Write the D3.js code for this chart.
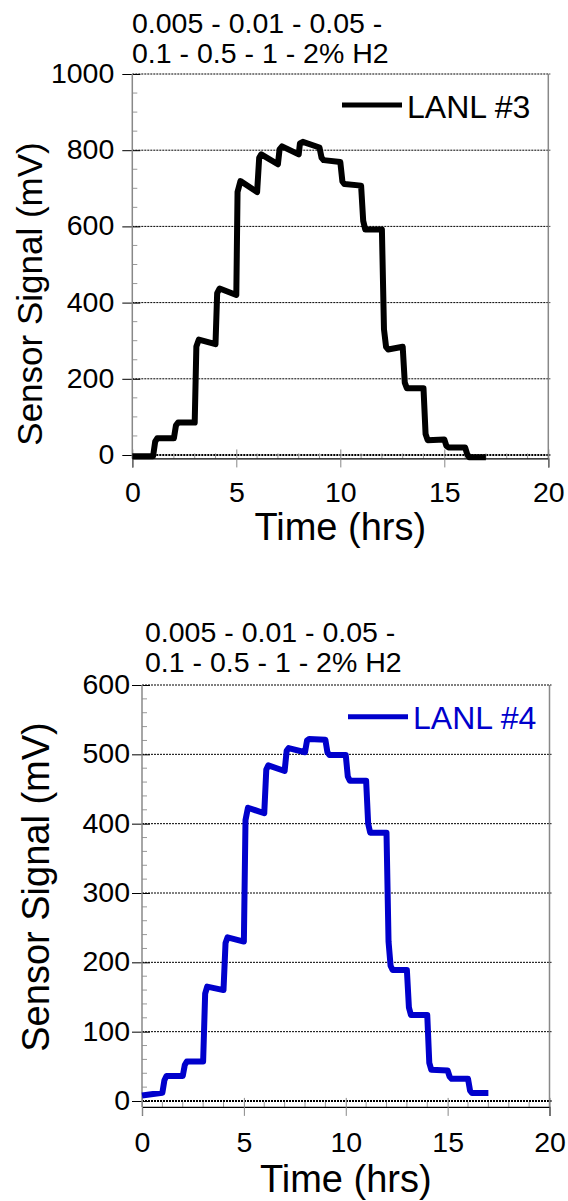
<!DOCTYPE html>
<html><head><meta charset="utf-8">
<script src="https://cdn.jsdelivr.net/npm/d3@7"></script>
<style>
body{margin:0;background:#fff}
svg{display:block}
text{font-family:"Liberation Sans",Arial,Helvetica,sans-serif;fill:#000}
</style>
</head><body>
<svg id="chart" width="568" height="1201"></svg>
<script>
// ---------- data ----------
const titleLines = ["0.005 - 0.01 - 0.05 -", "0.1 - 0.5 - 1 - 2% H2"];
const xTicks = [0, 5, 10, 15, 20];
const yTicksTop = [0, 200, 400, 600, 800, 1000];
const yTicksBottom = [0, 100, 200, 300, 400, 500, 600];
const seriesNames = ["LANL #3", "LANL #4"];
const xLabel = "Time (hrs)";
const yLabel = "Sensor Signal (mV)";

const time3 = [0, 1.0, 1.1, 1.2, 2.0, 2.1, 2.2, 3.0, 3.08, 3.2, 4.0, 4.08, 4.2, 5.0, 5.06, 5.2, 6.0, 6.1, 6.2, 7.0, 7.08, 7.2, 8.0, 8.06, 8.2, 9.0, 9.1, 9.2, 10.0, 10.1, 10.2, 11.0, 11.1, 11.2, 12.0, 12.1, 12.2, 12.3, 13.0, 13.1, 13.2, 14.0, 14.1, 14.2, 15.0, 15.1, 15.2, 16.0, 16.1, 16.2, 17.0];
const signal3 = [-3, -3, 35, 44, 44, 78, 85, 85, 285, 303, 291, 425, 437, 420, 690, 719, 690, 780, 789, 763, 802, 810, 789, 818, 822, 807, 780, 774, 769, 718, 711, 707, 615, 592, 592, 330, 284, 277, 284, 190, 175, 175, 55, 39, 41, 24, 20, 20, 2, -6, -6];

const time4 = [0, 1.0, 1.1, 1.2, 2.0, 2.1, 2.2, 3.0, 3.1, 3.2, 4.0, 4.1, 4.2, 5.0, 5.08, 5.2, 6.0, 6.1, 6.2, 7.0, 7.1, 7.2, 8.0, 8.1, 8.2, 9.0, 9.1, 9.2, 10.0, 10.1, 10.2, 11.0, 11.1, 11.2, 12.0, 12.1, 12.2, 12.3, 13.0, 13.1, 13.2, 14.0, 14.1, 14.2, 15.0, 15.1, 15.2, 16.0, 16.1, 16.2, 17.0];
const signal4 = [8, 12, 30, 36, 36, 52, 57, 57, 155, 165, 160, 228, 236, 230, 405, 423, 415, 478, 484, 476, 505, 509, 503, 520, 522, 521, 503, 499, 499, 468, 462, 462, 400, 387, 387, 230, 195, 189, 189, 135, 124, 124, 55, 45, 44, 35, 32, 32, 15, 11.5, 11.5];

// ---------- drawing ----------
const svg = d3.select("#chart");
const FONT = 28.5;

function drawPanel(cfg) {
  const g = svg.append("g");
  const x = d3.scaleLinear().domain([0, 20]).range([cfg.left, cfg.right]);
  const y = d3.scaleLinear().domain([0, cfg.yMax]).range([cfg.y0, cfg.yTop]);
  const axisY = y(cfg.yAxisMin);

  // gridlines
  g.append("g").selectAll("line").data(cfg.yTicks).join("line")
    .attr("x1", cfg.left).attr("x2", cfg.right + 2)
    .attr("y1", d => y(d)).attr("y2", d => y(d))
    .attr("stroke", "#000")
    .attr("stroke-width", d => (d === 0 ? 2 : 1))
    .attr("stroke-dasharray", "2,1");

  // minor ticks y
  const minorY = d3.range(0, cfg.yMax + 0.001, cfg.yMinor).filter(v => !cfg.yTicks.includes(v));
  g.append("g").selectAll("line").data(minorY).join("line")
    .attr("x1", cfg.left).attr("x2", cfg.left + 5)
    .attr("y1", d => y(d)).attr("y2", d => y(d))
    .attr("stroke", "#999").attr("stroke-width", 1);

  // minor ticks x
  const minorX = d3.range(1, 20).filter(v => v % 5 !== 0);
  g.append("g").selectAll("line").data(minorX).join("line")
    .attr("x1", d => x(d)).attr("x2", d => x(d))
    .attr("y1", axisY - 5).attr("y2", axisY)
    .attr("stroke", "#999").attr("stroke-width", 1);

  // left axis (y) with d3 axis
  const yAxis = d3.axisLeft(y).tickValues(cfg.yTicks).tickSize(10).tickPadding(cfg.yPad).tickFormat(d3.format("d"));
  const ga = g.append("g").attr("transform", `translate(${cfg.left},0)`).call(yAxis);
  ga.select(".domain").remove();
  ga.selectAll(".tick line").attr("x1", 8).attr("x2", -10).attr("stroke", "#000");
  ga.selectAll(".tick text").attr("font-size", FONT).attr("font-family", '"Liberation Sans",Arial,sans-serif').attr("dy", "0.3em").attr("fill", "#000");
  g.append("line").attr("x1", cfg.left).attr("x2", cfg.left)
    .attr("y1", axisY).attr("y2", y(cfg.yMax)).attr("stroke", "#888").attr("stroke-width", 1.5);
  // right border
  g.append("line").attr("x1", cfg.right).attr("x2", cfg.right)
    .attr("y1", axisY).attr("y2", y(cfg.yMax)).attr("stroke", "#888").attr("stroke-width", 1.5);

  // bottom axis (x)
  const xAxis = d3.axisBottom(x).tickValues(xTicks).tickSize(9).tickPadding(cfg.xPad).tickFormat(d3.format("d"));
  const gx = g.append("g").attr("transform", `translate(0,${axisY})`).call(xAxis);
  gx.select(".domain").attr("stroke", "#000").attr("stroke-width", 1.2);
  gx.selectAll(".tick line").attr("y1", -9).attr("y2", 9).attr("stroke", "#888");
  gx.selectAll(".tick text").attr("font-size", FONT).attr("font-family", '"Liberation Sans",Arial,sans-serif').attr("fill", "#000");

  // series line
  const line = d3.line().x(d => x(d[0])).y(d => y(d[1]));
  const pts = cfg.time.map((t, i) => [t, cfg.signal[i]]);
  g.append("path").datum(pts).attr("d", line)
    .attr("fill", "none").attr("stroke", cfg.color).attr("stroke-width", 6)
    .attr("stroke-linejoin", "round").attr("stroke-linecap", "butt");

  // legend
  g.append("line").attr("x1", cfg.legX).attr("x2", cfg.legX + 60)
    .attr("y1", cfg.legY).attr("y2", cfg.legY)
    .attr("stroke", cfg.color).attr("stroke-width", 5);
  g.append("text").attr("x", cfg.legX + 65).attr("y", cfg.legY + 12.5)
    .attr("font-size", 32).style("fill", cfg.color).text(cfg.name);

  // title
  g.append("g").selectAll("text").data(titleLines).join("text")
    .attr("x", cfg.titleX).attr("y", (d, i) => cfg.titleY + i * 30)
    .attr("font-size", FONT).text(d => d);

  // axis labels
  g.append("text").attr("x", (cfg.left + cfg.right) / 2).attr("y", cfg.xLabelY)
    .attr("text-anchor", "middle").attr("font-size", 38).text(xLabel);
  g.append("text").attr("transform", `translate(${cfg.yLabelX},${cfg.yLabelCY}) rotate(-90)`)
    .attr("text-anchor", "middle").attr("font-size", cfg.yLabelSize).text(yLabel);
}

drawPanel({
  left: 132.3, right: 548.3, y0: 455, yTop: 74, yMax: 1000, yAxisMin: -9, yMinor: 50,
  yTicks: yTicksTop, yPad: 8, xPad: 14,
  time: time3, signal: signal3, color: "#000", name: seriesNames[0],
  legX: 342, legY: 105, titleX: 132, titleY: 33, xLabelY: 540, yLabelX: 42, yLabelCY: 294, yLabelSize: 35
});
drawPanel({
  left: 142, right: 549.5, y0: 1101, yTop: 685, yMax: 600, yAxisMin: -8.5, yMinor: 20,
  yTicks: yTicksBottom, yPad: 2, xPad: 16,
  time: time4, signal: signal4, color: "#0000cc", name: seriesNames[1],
  legX: 348, legY: 716.7, titleX: 145, titleY: 642, xLabelY: 1192, yLabelX: 49, yLabelCY: 887, yLabelSize: 38
});
</script>
</body></html>
